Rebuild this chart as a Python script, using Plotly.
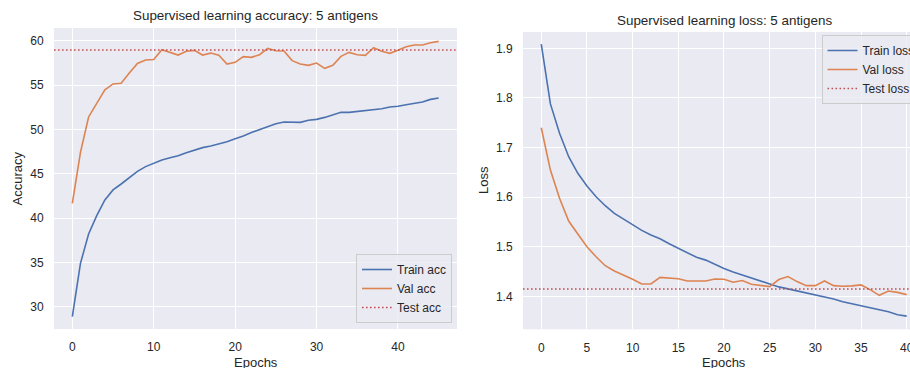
import plotly.graph_objects as go

# ---------------- data ----------------
epochs_acc = list(range(46))
train_acc = [28.88, 34.89, 38.2, 40.27, 42.04, 43.17, 43.84, 44.52, 45.27, 45.8,
             46.21, 46.55, 46.8, 47.03, 47.37, 47.67, 47.94, 48.13, 48.35, 48.61,
             48.95, 49.25, 49.64, 50.0, 50.3, 50.64, 50.83, 50.83, 50.79, 51.02,
             51.13, 51.35, 51.62, 51.92, 51.92, 52.03, 52.1, 52.18, 52.33, 52.52,
             52.6, 52.78, 52.9, 53.09, 53.38, 53.54]
val_acc = [41.65, 47.4, 51.4, 52.85, 54.45, 55.12, 55.2, 56.35, 57.44, 57.82,
           57.87, 58.99, 58.65, 58.38, 58.8, 58.91, 58.38, 58.6, 58.35, 57.37,
           57.56, 58.2, 58.12, 58.42, 59.13, 58.87, 58.83, 57.75, 57.37, 57.22,
           57.48, 56.88, 57.22, 58.23, 58.68, 58.42, 58.35, 59.21, 58.8, 58.57,
           58.91, 59.32, 59.51, 59.51, 59.77, 59.92]
test_acc = 58.95

epochs_loss = list(range(41))
train_loss = [1.9087, 1.788, 1.7286, 1.6815, 1.648, 1.6224, 1.6008, 1.5827, 1.5673, 1.5559,
              1.5444, 1.533, 1.5236, 1.5161, 1.506, 1.4968, 1.488, 1.4786, 1.473, 1.464,
              1.456, 1.449, 1.443, 1.4365, 1.430, 1.4236, 1.419, 1.415, 1.411, 1.4074,
              1.404, 1.400, 1.3946, 1.389, 1.385, 1.3818, 1.3764, 1.373, 1.369, 1.363,
              1.360]
val_loss = [1.74, 1.6546, 1.5976, 1.5518, 1.5256, 1.5, 1.4798, 1.4617, 1.451, 1.443,
            1.4343, 1.4248, 1.4248, 1.4383, 1.437, 1.4355, 1.431, 1.431, 1.431, 1.435,
            1.4345, 1.4284, 1.4318, 1.4243, 1.4216, 1.4196, 1.4338, 1.4399, 1.4297, 1.4216,
            1.4216, 1.431, 1.4216, 1.4203, 1.421, 1.423, 1.4135, 1.402, 1.4108, 1.408,
            1.4034]
test_loss = 1.4149

x_ticks_acc = [0, 10, 20, 30, 40]
y_ticks_acc = [30, 35, 40, 45, 50, 55, 60]
x_ticks_loss = [0, 5, 10, 15, 20, 25, 30, 35, 40]
y_ticks_loss = [1.4, 1.5, 1.6, 1.7, 1.8, 1.9]

# ---------------- style ----------------
W, H = 910, 368
FONT = "Liberation Sans, Arial, sans-serif"
TXT = "#262626"
BG = "#EAEAF2"
BLUE, ORANGE, RED = "#4C72B0", "#DD8452", "#C44E52"

def px_x(p):
    return p / W

def px_y(p):
    return 1 - p / H

fig = go.Figure()

fig.add_trace(go.Scatter(x=epochs_acc, y=train_acc, mode="lines", name="Train acc",
                         line=dict(color=BLUE, width=1.6), xaxis="x", yaxis="y", legend="legend"))
fig.add_trace(go.Scatter(x=epochs_acc, y=val_acc, mode="lines", name="Val acc",
                         line=dict(color=ORANGE, width=1.6), xaxis="x", yaxis="y", legend="legend"))
fig.add_trace(go.Scatter(x=epochs_loss, y=train_loss, mode="lines", name="Train loss",
                         line=dict(color=BLUE, width=1.6), xaxis="x2", yaxis="y2", legend="legend2"))
fig.add_trace(go.Scatter(x=epochs_loss, y=val_loss, mode="lines", name="Val loss",
                         line=dict(color=ORANGE, width=1.6), xaxis="x2", yaxis="y2", legend="legend2"))

fig.add_shape(type="line", xref="x domain", yref="y", x0=0, x1=1, y0=test_acc, y1=test_acc,
              line=dict(color=RED, width=1.6, dash="1.6px,2.4px"),
              showlegend=True, name="Test acc", legend="legend")
fig.add_shape(type="line", xref="x2 domain", yref="y2", x0=0, x1=1, y0=test_loss, y1=test_loss,
              line=dict(color=RED, width=1.6, dash="1.6px,2.4px"),
              showlegend=True, name="Test loss", legend="legend2")

axis_common = dict(showgrid=True, gridcolor="white", gridwidth=1, zeroline=False,
                   showline=False, ticks="outside", ticklen=7, tickcolor="rgba(0,0,0,0)",
                   ticklabeloverflow="allow",
                   tickfont=dict(family=FONT, size=12, color=TXT))

fig.update_layout(
    width=W, height=H,
    margin=dict(l=0, r=0, t=0, b=0, autoexpand=False),
    paper_bgcolor="white", plot_bgcolor=BG,
    font=dict(family=FONT, color=TXT),
    xaxis=dict(domain=[px_x(54), px_x(457)], range=[-2.25, 47.25], tickvals=x_ticks_acc,
               anchor="y", **axis_common),
    yaxis=dict(domain=[px_y(329), px_y(28)], range=[27.49, 61.43], tickvals=y_ticks_acc,
               anchor="x", **axis_common),
    xaxis2=dict(domain=[px_x(523), 1.0], range=[-2.0, 40.36], tickvals=x_ticks_loss,
                anchor="y2", **axis_common),
    yaxis2=dict(domain=[px_y(329.3), px_y(32)], range=[1.3335, 1.933], tickvals=y_ticks_loss,
                tickformat=".1f", anchor="x2", **axis_common),
    legend=dict(x=px_x(452), y=px_y(323), xanchor="right", yanchor="bottom",
                bgcolor="rgba(234,234,242,0.8)", bordercolor="#CCCCCC", borderwidth=1,
                font=dict(family=FONT, size=12, color=TXT), tracegroupgap=0,
                itemwidth=30),
    legend2=dict(x=px_x(821.5), y=px_y(35), xanchor="left", yanchor="top",
                 bgcolor="rgba(234,234,242,0.8)", bordercolor="#CCCCCC", borderwidth=1,
                 font=dict(family=FONT, size=12, color=TXT), tracegroupgap=0,
                 itemwidth=30),
    showlegend=True,
)

annotations = [
    dict(text="Supervised learning accuracy: 5 antigens", x=px_x(255.5), y=px_y(15.5),
         font=dict(size=13.4)),
    dict(text="Supervised learning loss: 5 antigens", x=px_x(724.5), y=px_y(20.5),
         font=dict(size=13.4)),
    dict(text="Epochs", x=px_x(256), y=px_y(362), font=dict(size=13)),
    dict(text="Epochs", x=px_x(724), y=px_y(362), font=dict(size=13)),
    dict(text="Accuracy", x=px_x(17), y=px_y(178.5), textangle=-90, font=dict(size=13)),
    dict(text="Loss", x=px_x(483.5), y=px_y(180.5), textangle=-90, font=dict(size=13)),
]
for a in annotations:
    a.update(xref="paper", yref="paper", xanchor="center", yanchor="middle", showarrow=False)
    a["font"].update(family=FONT, color=TXT)
fig.update_layout(annotations=annotations)

fig.write_html("out.html")
